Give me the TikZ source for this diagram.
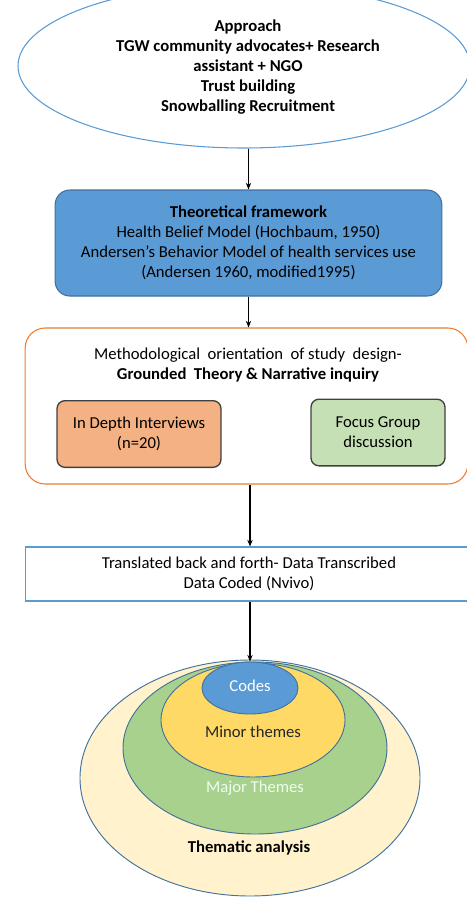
\documentclass[tikz,border=0pt]{standalone}
\usepackage{fontspec}
\setmainfont{Carlito}
\usepackage{xcolor}
\definecolor{lineblue}{HTML}{5B9BD5}
\definecolor{edgeblue}{HTML}{41719C}
\definecolor{boxblue}{HTML}{5B9BD5}
\definecolor{lineorange}{HTML}{ED7D31}
\definecolor{fillorange}{HTML}{F4B183}
\definecolor{fillgreen}{HTML}{C5E0B4}
\definecolor{majorgreen}{HTML}{A9D18E}
\definecolor{minoryellow}{HTML}{FFD966}
\definecolor{cream}{HTML}{FFF2CC}
\usepackage{tikz}
\usetikzlibrary{positioning,arrows.meta,shapes.geometric}

\begin{document}
\begin{tikzpicture}[
  x=0.75pt, y=-0.75pt,
  font=\fontsize{12.5}{15}\selectfont,
  oval/.style={draw=lineblue, ellipse, inner sep=0pt, line width=0.8pt,
               minimum width=339pt, minimum height=123pt, align=center},
  theory/.style={draw=edgeblue, fill=boxblue, rounded corners=11pt, line width=0.8pt,
                 minimum width=290pt, minimum height=79.5pt, align=center},
  design/.style={draw=lineorange, rounded corners=15pt, line width=0.8pt,
                 minimum width=332pt, minimum height=117pt},
  method/.style={draw=black!75, rounded corners=6pt, line width=1pt,
                 align=center, minimum height=50pt},
  process/.style={draw=lineblue, line width=0.8pt, align=center,
                  minimum width=335pt, minimum height=40.5pt},
  ring/.style={draw=edgeblue, ellipse, inner sep=0pt, line width=0.7pt},
  arrow/.style={-{Stealth[length=5pt,width=4pt]}, line width=0.8pt, black}
]
\useasboundingbox (0,0) rectangle (467,897);
\clip (0,0) rectangle (467,897);

%% Approach
\node (approach) [oval] at (244,66) {};
\node (approach_txt) [font=\fontsize{12.5}{15}\selectfont\bfseries, align=center] at (248,67)
    {Approach\\
     TGW community advocates+ Research\\
     assistant + NGO\\
     Trust building\\
     Snowballing Recruitment};

%% Theoretical framework
\node (theory_node) [theory] at (248.5,243)
    {\textbf{Theoretical framework}\\
     Health Belief Model (Hochbaum, 1950)\\
     Andersen’s Behavior Model of health services use\\
     (Andersen 1960, modified1995)};

%% Study design with the two methods
\node (design_node) [design] at (246.5,406) {};
\node (design_txt) [align=center] at (248,365)
    {Methodological\ \ orientation\ \ of study\ \ design-\\
     \textbf{Grounded\ \ Theory \& Narrative inquiry}};
\node (idi) [method, fill=fillorange, minimum width=123pt] at (139,434)
    {In Depth Interviews\\(n=20)};
\node (fgd) [method, fill=fillgreen, minimum width=100.5pt] at (378,432.5)
    {Focus Group\\discussion};

%% Transcription and coding
\node (data_node) [process] at (249,574)
    {Translated back and forth- Data Transcribed\\
     Data Coded (Nvivo)};

%% Thematic analysis rings
\node (thematic) [ring, fill=cream, minimum width=255pt, minimum height=177pt] at (250,778) {};
\node (major) [ring, fill=majorgreen, minimum width=198pt, minimum height=129pt] at (255,748) {};
\node (minor) [ring, fill=minoryellow, minimum width=138pt, minimum height=85.5pt] at (253,720) {};
\node (codes) [ring, fill=boxblue, minimum width=72pt, minimum height=39pt] at (250,688) {};
\node (codes_txt) [white] at (250,686) {Codes};
\node (minor_txt) [black!85] at (253,732) {Minor themes};
\node (major_txt) [white!92!green] at (255,788) {Major Themes};
\node (thematic_txt) [font=\fontsize{12.5}{15}\selectfont\bfseries] at (249,848) {Thematic analysis};

%% Arrows
\draw [arrow] (approach.south -| theory_node.north) -- (theory_node.north);
\draw [arrow] (theory_node.south) -- (theory_node.south |- design_node.north);
\draw [arrow] (design_node.south -| 250,0) -- (data_node.north -| 250,0);
\draw [arrow] (data_node.south -| codes.north) -- (codes.north);

\end{tikzpicture}
\end{document}
